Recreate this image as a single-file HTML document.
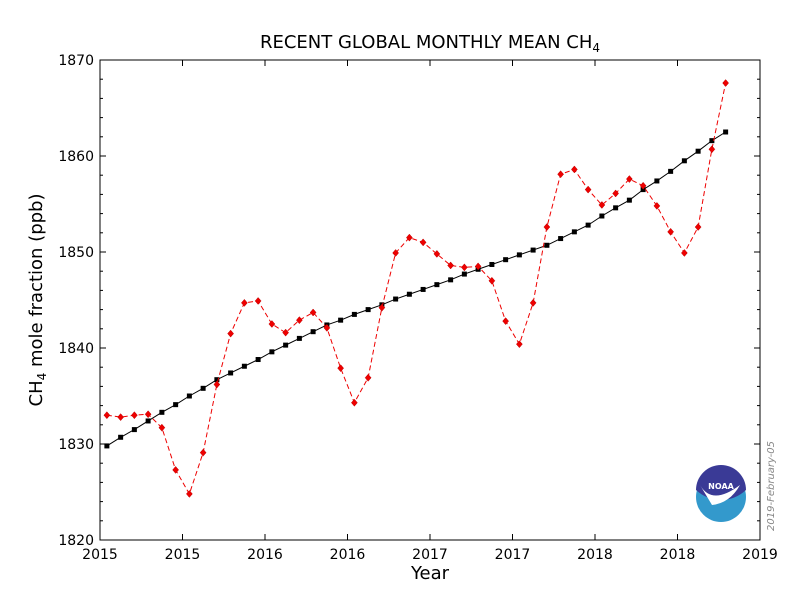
<!DOCTYPE html>
<html><head><meta charset="utf-8"><style>
body{margin:0;background:#fff;font-family:"Liberation Sans","DejaVu Sans",sans-serif}
svg text{font-family:"DejaVu Sans","Liberation Sans",sans-serif}
</style></head><body>
<svg id="chart" width="800" height="600" viewBox="0 0 800 600" xmlns="http://www.w3.org/2000/svg">
<rect width="800" height="600" fill="#fff"/>
<text x="430" y="48" font-size="18" text-anchor="middle">RECENT GLOBAL MONTHLY MEAN CH<tspan font-size="12" dy="4">4</tspan></text>
<g id="axes"></g>
<g id="series"></g>
<rect x="100" y="60" width="660" height="480" fill="none" stroke="#000" stroke-width="1"/>
<text x="430" y="579" font-size="18" text-anchor="middle">Year</text>
<text transform="translate(42,300) rotate(-90)" font-size="18" text-anchor="middle">CH<tspan font-size="12" dy="4">4</tspan><tspan dy="-4"> mole fraction (ppb)</tspan></text>
<text transform="translate(774,486) rotate(-90)" font-size="10" fill="#888" font-style="italic" text-anchor="middle">2019-February-05</text>
<g>
<circle cx="721" cy="497" r="25" fill="#3399cc"/>
<path d="M696,490 A25,25 0 0 1 746,490 Q735,500 721,500 Q707,500 696,490Z" fill="#3a3a96"/>
<path d="M700,485 Q712,506 740,485 Q730,503 712,505Z" fill="#fff"/>
<text x="721" y="489" font-size="8" fill="#fff" text-anchor="middle" font-weight="bold">NOAA</text>
</g>
</svg>
<script>
const xTickVals=[2015,2015.5,2016,2016.5,2017,2017.5,2018,2018.5,2019];
const xTickLabels=["2015","2015","2016","2016","2017","2017","2018","2018","2019"];
const yTickVals=[1820,1830,1840,1850,1860,1870];
const startYear=2015, startMonth=1;
const monthly=[1833.0,1832.8,1833.0,1833.1,1831.7,1827.3,1824.8,1829.1,1836.2,1841.5,1844.7,1844.9,1842.5,1841.6,1842.9,1843.7,1842.1,1837.9,1834.3,1836.9,1844.2,1849.9,1851.5,1851.0,1849.8,1848.6,1848.4,1848.5,1847.0,1842.8,1840.4,1844.7,1852.6,1858.1,1858.6,1856.5,1854.9,1856.1,1857.6,1856.9,1854.8,1852.1,1849.9,1852.6,1860.7,1867.6];
const trend=[1829.8,1830.7,1831.5,1832.4,1833.3,1834.1,1835.0,1835.8,1836.7,1837.4,1838.1,1838.8,1839.6,1840.3,1841.0,1841.7,1842.4,1842.9,1843.5,1844.0,1844.5,1845.1,1845.6,1846.1,1846.6,1847.1,1847.7,1848.2,1848.7,1849.2,1849.7,1850.2,1850.7,1851.4,1852.1,1852.8,1853.75,1854.6,1855.4,1856.5,1857.4,1858.4,1859.5,1860.5,1861.6,1862.5];
const X=v=>100+(v-2015)*165;
const Y=v=>540-(v-1820)*9.6;
const NS="http://www.w3.org/2000/svg";
function mk(t,a,p){const e=document.createElementNS(NS,t);for(const k in a)e.setAttribute(k,a[k]);p.appendChild(e);return e;}
const axes=document.getElementById('axes'),ser=document.getElementById('series');
xTickVals.forEach((v,i)=>{
 const x=X(v);
 const t=mk('line',{x1:x,x2:x,y1:540,y2:534,stroke:'#000'},axes);
 
 
 mk('line',{x1:x,x2:x,y1:60,y2:66,stroke:'#000'},axes);
 const l=mk('text',{x:x,y:559,'font-size':14,'text-anchor':'middle'},axes);
 l.textContent=xTickLabels[i];
 
 
});
for(let v=1820;v<=1870;v+=2){
 const y=Y(v),big=(v%10===0),len=big?6:3;
 mk('line',{x1:100,x2:100+len,y1:y,y2:y,stroke:'#000'},axes);
 mk('line',{x1:760,x2:760-len,y1:y,y2:y,stroke:'#000'},axes);
}
yTickVals.forEach(v=>{
 const l=mk('text',{x:94,y:Y(v)+5,'font-size':14,'text-anchor':'end'},axes);
 l.textContent=v;
 
 
});
const tx=i=>X(startYear+(startMonth-0.5+i)/12);
const tl=mk('polyline',{points:trend.map((v,i)=>tx(i)+','+Y(v)).join(' '),fill:'none',stroke:'#000','stroke-width':1},ser);


trend.forEach((v,i)=>{
 const r=mk('rect',{x:tx(i)-2.5,y:Y(v)-2.5,width:5,height:5,fill:'#000'},ser);
 
 
});
const ml=mk('polyline',{points:monthly.map((v,i)=>tx(i)+','+Y(v)).join(' '),fill:'none',stroke:'#e00','stroke-width':1,'stroke-dasharray':'5,3'},ser);


monthly.forEach((v,i)=>{
 const x=tx(i),y=Y(v);
 const d=mk('polygon',{points:`${x},${y-3.5} ${x+3},${y} ${x},${y+3.5} ${x-3},${y}`,fill:'#e00',stroke:'#b00','stroke-width':0.5},ser);
 
 
});
</script>
</body></html>
